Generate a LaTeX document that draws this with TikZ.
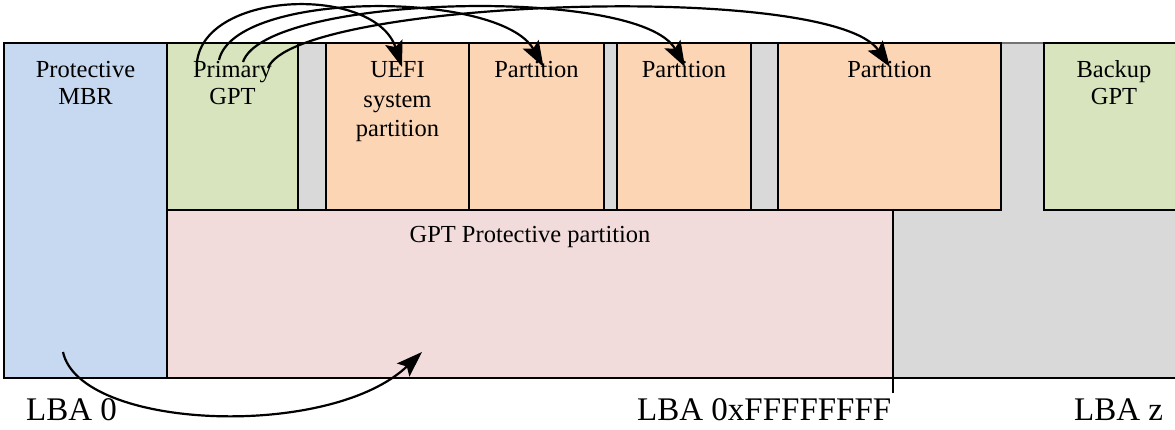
\documentclass[tikz,border=0pt]{standalone}
\usepackage{fontspec}
\setmainfont{Liberation Serif}
\usetikzlibrary{arrows.meta}
\definecolor{mbrblue}{HTML}{C6D9F1}
\definecolor{gptgreen}{HTML}{D7E4BD}
\definecolor{partorange}{HTML}{FCD5B5}
\definecolor{protpink}{HTML}{F2DCDB}
\definecolor{gapgray}{HTML}{D9D9D9}
\begin{document}
\begin{tikzpicture}[x=1pt,y=-1pt,
 blk/.style={draw=black,line width=1.3pt},
 lbl/.style={font=\fontsize{24.5}{27}\selectfont,align=center,anchor=base,inner sep=0pt},
 lbl3/.style={font=\fontsize{24.5}{29.5}\selectfont,align=center,anchor=base,inner sep=0pt},
 lba/.style={font=\fontsize{33}{38}\selectfont,anchor=base west,inner sep=0pt},
 ptr/.style={line width=2.2pt,arrows={-Stealth[length=26pt,width=18pt,inset=5pt]}}]
\useasboundingbox (0,0) rectangle (1175,430);
\fill[gapgray] (4,43) rectangle (1180,378);
\draw[line width=1.3pt,draw=black!55] (4,43) -- (1180,43);
\draw[blk] (4,378) -- (1180,378);
\draw[blk,fill=mbrblue] (4,43) rectangle (167,378);
\draw[blk,fill=gptgreen] (167,43) rectangle (298,210);
\draw[blk,fill=gapgray] (298,43) rectangle (326,210);
\draw[blk,fill=partorange] (326,43) rectangle (469,210);
\draw[blk,fill=partorange] (469,43) rectangle (604,210);
\draw[blk,fill=gapgray] (604,43) rectangle (617,210);
\draw[blk,fill=partorange] (617,43) rectangle (751,210);
\draw[blk,fill=gapgray] (751,43) rectangle (778,210);
\draw[blk,fill=partorange] (778,43) rectangle (1001,210);
\draw[blk,fill=gptgreen] (1044,43) rectangle (1185,210);
\draw[blk,fill=protpink] (167,210) rectangle (893,378);
\coordinate (tickbot) at (893,393);
\draw[blk] (893,210) -- (tickbot);

\node[lbl] (tmbr) at (85.5,104.5) {Protective\\MBR};
\node[lbl] (tpgpt) at (232.5,104.5) {Primary\\GPT};
\node[lbl3] (tuefi) at (397.5,136.7) {UEFI\\system\\partition};
\node[lbl] (tp2) at (536.5,77.7) {Partition};
\node[lbl] (tp3) at (684,77.7) {Partition};
\node[lbl] (tp4) at (889.5,77.7) {Partition};
\node[lbl] (tbgpt) at (1114,104.5) {Backup\\GPT};
\node[lbl] (tprot) at (530,243) {GPT Protective partition};

\node[lba] (lba0) at (26,420) {LBA 0};
\node[lba] (lbaf) at (637,420) {LBA 0xFFFFFFFF};
\node[lba] (lbaz) at (1074,420) {LBA z};

\coordinate (s1) at (197,62);
\coordinate (s2) at (219,60);
\coordinate (s3) at (243,62);
\coordinate (s4) at (268,68);
\coordinate (e1) at (402,67);
\coordinate (e2) at (543.5,67);
\coordinate (e3) at (685,67);
\coordinate (e4) at (890,67);
\draw[ptr] (s1) .. controls (205,-10) and (375,-15) .. (e1);
\draw[ptr] (s2) .. controls (235,-10) and (500,-10) .. (e2);
\draw[ptr] (s3) .. controls (265,-5) and (640,-15) .. (e3);
\draw[ptr] (s4) .. controls (295,0) and (830,-20) .. (e4);

\coordinate (b0) at (63,352);
\coordinate (b1) at (422,352);
\draw[ptr] (b0) .. controls (80,430) and (330,440) .. (b1);
\end{tikzpicture}
\end{document}
